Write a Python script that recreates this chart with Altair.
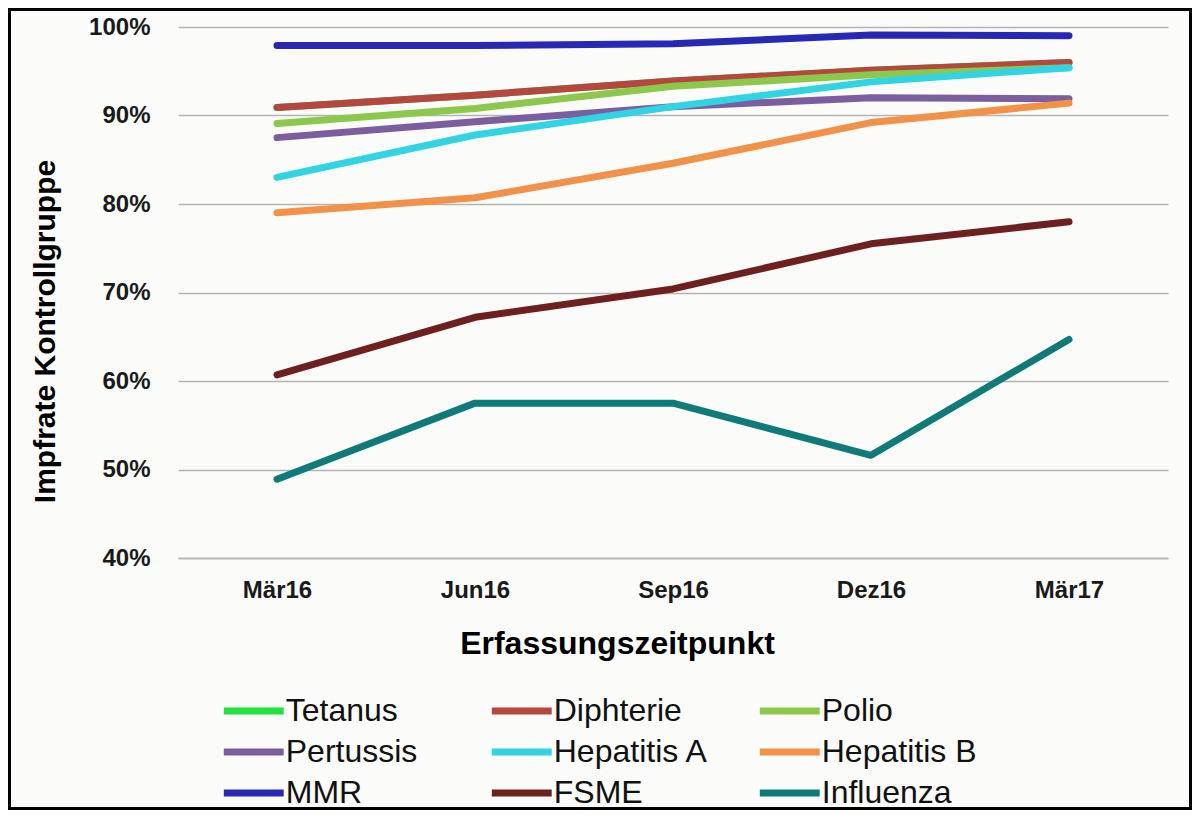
import altair as alt
import pandas as pd

zeitpunkte = ["Mär16", "Jun16", "Sep16", "Dez16", "Mär17"]
impfstoffe = ["Tetanus", "Diphterie", "Polio", "Pertussis", "Hepatitis A",
              "Hepatitis B", "MMR", "FSME", "Influenza"]
farben = ["#22e23c", "#b5473f", "#8bc84c", "#7b5ea0", "#31d4e2",
          "#f29248", "#2828b4", "#6e1f1f", "#0e7b78"]

tetanus = [0.909, 0.923, 0.939, 0.951, 0.960]
diphterie = [0.909, 0.923, 0.939, 0.951, 0.960]
polio = [0.891, 0.908, 0.933, 0.946, 0.954]
pertussis = [0.875, 0.893, 0.910, 0.920, 0.919]
hepatitis_a = [0.830, 0.878, 0.910, 0.938, 0.954]
hepatitis_b = [0.790, 0.807, 0.846, 0.892, 0.914]
mmr = [0.979, 0.979, 0.981, 0.991, 0.990]
fsme = [0.607, 0.672, 0.704, 0.755, 0.780]
influenza = [0.489, 0.575, 0.575, 0.516, 0.647]

reihen = [tetanus, diphterie, polio, pertussis, hepatitis_a,
          hepatitis_b, mmr, fsme, influenza]

rows = []
for name, werte in zip(impfstoffe, reihen):
    for z, w in zip(zeitpunkte, werte):
        rows.append({"Impfstoff": name, "Zeitpunkt": z, "Rate": w})
df = pd.DataFrame(rows)

W, H = 990, 531
PAD = {"left": 170, "top": 19, "right": 24, "bottom": 252}

lines = alt.Chart(df).mark_line(strokeWidth=7, strokeCap="round", strokeJoin="round").encode(
    x=alt.X("Zeitpunkt:N", sort=zeitpunkte,
            scale=alt.Scale(type="point", padding=0.5),
            title="Erfassungszeitpunkt",
            axis=alt.Axis(labelAngle=0, labelFont="Liberation Sans", labelFontWeight="bold",
                          labelFontSize=24, labelColor="#1a1a1a", labelPadding=20,
                          ticks=False, domainColor="#b4b4b4", domainWidth=1.5,
                          titleFont="Liberation Sans", titleFontWeight="bold",
                          titleFontSize=32, titleColor="#000000",
                          titleX=439, titleY=95, titleAlign="center",
                          titleBaseline="alphabetic")),
    y=alt.Y("Rate:Q", scale=alt.Scale(domain=[0.4, 1.0]),
            title="Impfrate Kontrollgruppe",
            axis=alt.Axis(values=[0.4, 0.5, 0.6, 0.7, 0.8, 0.9, 1.0], format=".0%",
                          labelFont="Liberation Sans", labelFontWeight="bold",
                          labelFontSize=24, labelColor="#1a1a1a", labelPadding=28,
                          ticks=False, domain=False, gridColor="#b4b4b4", gridWidth=1.5,
                          titleFont="Liberation Sans", titleFontWeight="bold",
                          titleFontSize=30, titleColor="#000000",
                          titleX=-124, titleY=304, titleAlign="center",
                          titleBaseline="alphabetic", titleAngle=270)),
    color=alt.Color("Impfstoff:N", sort=impfstoffe,
                    scale=alt.Scale(domain=impfstoffe, range=farben),
                    legend=alt.Legend(title=None, orient="none", legendX=58.75, legendY=667,
                                      direction="horizontal",
                                      columns=3, gridAlign="all", columnPadding=37,
                                      rowPadding=8, padding=0,
                                      symbolType="M-2.26,0H2.26", symbolSize=702,
                                      symbolStrokeWidth=7,
                                      labelFont="Liberation Sans", labelFontSize=32,
                                      labelColor="#111111", labelOffset=15,
                                      labelLimit=400)),
)

frame = alt.Chart(pd.DataFrame({"r": [0]})).mark_rect(
    fillOpacity=0, stroke="#000000", strokeWidth=3
).encode(
    x=alt.value(-PAD["left"] + 1.5), x2=alt.value(W + PAD["right"] - 1.5),
    y=alt.value(-PAD["top"] + 1.5), y2=alt.value(H + PAD["bottom"] - 1.5),
)

chart = alt.layer(lines, frame).properties(
    width=W, height=H, padding=PAD,
    autosize=alt.AutoSizeParams(type="none"),
    background="#fbfbfa",
).configure_view(strokeWidth=0)

chart.save("out.html", embed_options={"renderer": "svg", "actions": False})
